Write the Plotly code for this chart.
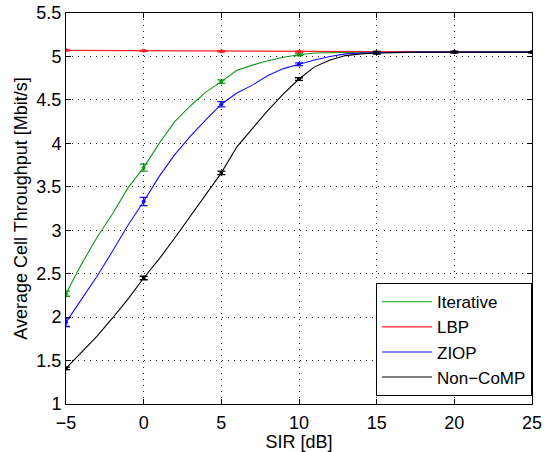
import plotly.graph_objects as go

# SIR sweep in dB
sir = list(range(-5, 26))

# Average cell throughput [Mbit/s] per scheme, one value per dB step
iterative = [2.27, 2.61, 2.92, 3.19, 3.49, 3.72, 4.00, 4.25, 4.43, 4.59,
             4.71, 4.84, 4.90, 4.95, 4.99, 5.02, 5.04, 5.045, 5.05, 5.05,
             5.05, 5.05, 5.05, 5.05, 5.05, 5.05, 5.05, 5.05, 5.05, 5.05, 5.05]
lbp = [5.07, 5.069, 5.068, 5.067, 5.066, 5.065, 5.064, 5.063, 5.062, 5.061,
       5.06, 5.059, 5.058, 5.057, 5.056, 5.055, 5.054, 5.053, 5.052, 5.051,
       5.05, 5.05, 5.05, 5.05, 5.05, 5.05, 5.05, 5.05, 5.05, 5.05, 5.05]
ziop = [1.94, 2.21, 2.47, 2.76, 3.06, 3.33, 3.62, 3.87, 4.08, 4.27,
        4.45, 4.58, 4.67, 4.78, 4.86, 4.91, 4.96, 5.00, 5.03, 5.04,
        5.045, 5.05, 5.05, 5.05, 5.05, 5.05, 5.05, 5.05, 5.05, 5.05, 5.05]
noncomp = [1.41, 1.59, 1.78, 1.99, 2.21, 2.45, 2.67, 2.91, 3.16, 3.41,
           3.66, 3.96, 4.17, 4.38, 4.57, 4.74, 4.88, 4.96, 5.01, 5.03,
           5.04, 5.045, 5.05, 5.05, 5.05, 5.05, 5.05, 5.05, 5.05, 5.05, 5.05]

# Confidence half-widths at SIR = -5, 0, 5, ..., 25
err_sir = [-5, 0, 5, 10, 15, 20, 25]
iterative_err = [0.03, 0.04, 0.02, 0.01, 0.01, 0.005, 0.005]
lbp_err = [0.006, 0.006, 0.006, 0.006, 0.006, 0.005, 0.005]
ziop_err = [0.048, 0.048, 0.03, 0.015, 0.01, 0.005, 0.005]
noncomp_err = [0.015, 0.02, 0.02, 0.015, 0.012, 0.01, 0.005]

series = [
    ("Iterative", iterative, iterative_err, "#119911"),
    ("LBP", lbp, lbp_err, "#ff2020"),
    ("ZIOP", ziop, ziop_err, "#1010ff"),
    ("Non\u2212CoMP", noncomp, noncomp_err, "#000000"),
]

FONT = "Liberation Sans, Arial, sans-serif"
FS = 18

fig = go.Figure()
for name, vals, errs, color in series:
    fig.add_trace(go.Scatter(
        x=sir, y=vals, mode="lines", name=name,
        line=dict(color=color, width=1.1),
    ))
for name, vals, errs, color in series:
    pts = [vals[sir.index(s)] for s in err_sir]
    fig.add_trace(go.Scatter(
        x=err_sir, y=pts, mode="markers", showlegend=False,
        marker=dict(color=color, size=4),
        error_y=dict(type="data", array=errs, visible=True,
                     color=color, thickness=1.3, width=4),
    ))

axis_common = dict(
    showline=True, linecolor="black", linewidth=1, mirror="ticks",
    ticks="inside", ticklen=5, tickcolor="black",
    showgrid=True, gridcolor="#222222", gridwidth=1, griddash="1px,5px",
    zeroline=False, automargin=False,
    tickfont=dict(family=FONT, size=FS, color="black"),
)

fig.update_xaxes(range=[-5, 25], dtick=5, tick0=-5, ticklabelstandoff=2,
                 title=dict(text="SIR [dB]", standoff=0,
                            font=dict(family=FONT, size=FS, color="black")),
                 **axis_common)
fig.update_yaxes(range=[1, 5.5], dtick=0.5, tick0=1,
                 title=dict(text="Average Cell Throughput [Mbit/s]", standoff=4,
                            font=dict(family=FONT, size=FS, color="black")),
                 **axis_common)

fig.update_layout(
    width=544, height=452,
    margin=dict(l=66, r=12, t=13, b=48),
    paper_bgcolor="white", plot_bgcolor="white",
    legend=dict(
        x=1.0, y=0.02, xanchor="right", yanchor="bottom",
        bgcolor="white", bordercolor="black", borderwidth=1,
        font=dict(family=FONT, size=17, color="black"),
        itemwidth=50, tracegroupgap=0,
    ),
)

fig.write_html("out.html")
